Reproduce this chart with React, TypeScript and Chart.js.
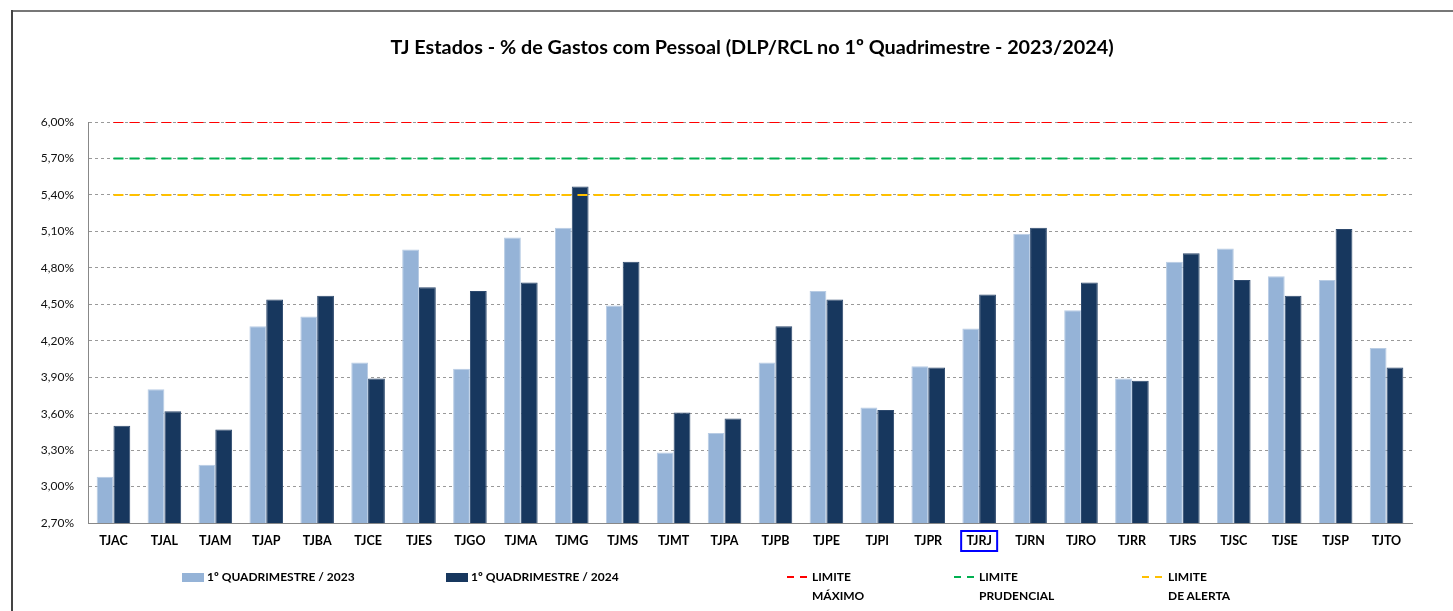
import React, { useEffect, useRef } from "react";
import { Chart, registerables } from "chart.js";

Chart.register(...registerables);

const CATEGORIES = [
  "TJAC", "TJAL", "TJAM", "TJAP", "TJBA", "TJCE", "TJES", "TJGO", "TJMA", "TJMG",
  "TJMS", "TJMT", "TJPA", "TJPB", "TJPE", "TJPI", "TJPR", "TJRJ", "TJRN", "TJRO",
  "TJRR", "TJRS", "TJSC", "TJSE", "TJSP", "TJTO",
];

const Q1_2023 = [
  3.08, 3.80, 3.18, 4.32, 4.40, 4.02, 4.95, 3.97, 5.05, 5.13,
  4.49, 3.28, 3.44, 4.02, 4.61, 3.65, 3.99, 4.30, 5.08, 4.45,
  3.89, 4.85, 4.96, 4.73, 4.70, 4.14,
];

const Q1_2024 = [
  3.50, 3.62, 3.47, 4.54, 4.57, 3.89, 4.64, 4.61, 4.68, 5.47,
  4.85, 3.61, 3.56, 4.32, 4.54, 3.63, 3.98, 4.58, 5.13, 4.68,
  3.87, 4.92, 4.70, 4.57, 5.12, 3.98,
];

const LIMITE_MAXIMO = 6.0;
const LIMITE_PRUDENCIAL = 5.7;
const LIMITE_ALERTA = 5.4;

const Y_TICKS = [2.7, 3.0, 3.3, 3.6, 3.9, 4.2, 4.5, 4.8, 5.1, 5.4, 5.7, 6.0];

const HIGHLIGHT = "TJRJ";

const TITLE = "TJ Estados - % de Gastos com Pessoal (DLP/RCL no 1º Quadrimestre - 2023/2024)";

const COLOR_2023 = "#95B3D7";
const COLOR_2024 = "#17375E";
const COLOR_MAX = "#FF0000";
const COLOR_PRU = "#00B050";
const COLOR_ALE = "#FFC000";

const FONT = "Lato, 'Open Sans', sans-serif";

const highlightPlugin = {
  id: "highlightLabel",
  afterDraw(chart: any) {
    const xs = chart.scales.x;
    const idx = CATEGORIES.indexOf(HIGHLIGHT);
    if (idx < 0) return;
    const cx = xs.getPixelForValue(idx);
    const ctx = chart.ctx;
    ctx.save();
    ctx.strokeStyle = "#0000FF";
    ctx.lineWidth = 2;
    ctx.strokeRect(cx - 18, chart.chartArea.bottom + 8, 36, 20);
    ctx.restore();
  },
};

export default function App() {
  const ref = useRef<HTMLCanvasElement | null>(null);

  useEffect(() => {
    if (!ref.current) return;
    const constLine = (v: number) => CATEGORIES.map(() => v);
    const chart = new Chart(ref.current, {
      type: "bar",
      data: {
        labels: CATEGORIES,
        datasets: [
          {
            type: "line" as any,
            label: "LIMITE MÁXIMO",
            data: constLine(LIMITE_MAXIMO),
            borderColor: COLOR_MAX,
            borderWidth: 2,
            borderDash: [10, 6],
            pointRadius: 0,
            fill: false,
            order: 0,
          } as any,
          {
            type: "line" as any,
            label: "LIMITE PRUDENCIAL",
            data: constLine(LIMITE_PRUDENCIAL),
            borderColor: COLOR_PRU,
            borderWidth: 2,
            borderDash: [10, 6],
            pointRadius: 0,
            fill: false,
            order: 0,
          } as any,
          {
            type: "line" as any,
            label: "LIMITE DE ALERTA",
            data: constLine(LIMITE_ALERTA),
            borderColor: COLOR_ALE,
            borderWidth: 2,
            borderDash: [10, 6],
            pointRadius: 0,
            fill: false,
            order: 0,
          } as any,
          {
            label: "1º QUADRIMESTRE / 2023",
            data: Q1_2023,
            backgroundColor: COLOR_2023,
            borderColor: "#B8CCE4",
            borderWidth: 1,
            categoryPercentage: 0.66,
            barPercentage: 1.0,
            order: 1,
          },
          {
            label: "1º QUADRIMESTRE / 2024",
            data: Q1_2024,
            backgroundColor: COLOR_2024,
            borderColor: "#2E4A6E",
            borderWidth: 1,
            categoryPercentage: 0.66,
            barPercentage: 1.0,
            order: 1,
          },
        ],
      },
      options: {
        animation: false,
        responsive: false,
        layout: { padding: { left: 20, right: 41, top: 122, bottom: 0 } },
        plugins: {
          legend: { display: false },
          title: { display: false },
          tooltip: { enabled: false },
        },
        scales: {
          x: {
            grid: { display: false },
            border: { display: true, color: "#888888", width: 1 },
            ticks: {
              color: "#000000",
              padding: 2,
              font: { family: FONT, size: 12.5, weight: "bold" },
              maxRotation: 0,
              autoSkip: false,
            },
            afterFit: (s: any) => {
              s.height = 88;
            },
          },
          y: {
            min: 2.7,
            max: 6.0,
            afterBuildTicks: (s: any) => {
              s.ticks = Y_TICKS.map((v) => ({ value: v }));
            },
            afterFit: (s: any) => {
              s.width = 68;
            },
            grid: { color: "#999999", lineWidth: 1, drawTicks: false },
            border: { display: true, color: "#888888", width: 1, dash: [3, 3] },
            ticks: {
              color: "#111111",
              padding: 14,
              font: { family: FONT, size: 12 },
              callback: (v: any) => Number(v).toFixed(2).replace(".", ",") + "%",
            },
          },
        },
      },
      plugins: [highlightPlugin],
    });
    return () => chart.destroy();
  }, []);

  const legendText: React.CSSProperties = {
    position: "absolute",
    fontFamily: FONT,
    fontWeight: "bold",
    fontSize: 12,
    lineHeight: "19px",
    color: "#000",
    whiteSpace: "nowrap",
  };
  const swatch = (left: number, color: string): React.CSSProperties => ({
    position: "absolute",
    left,
    top: 573,
    width: 22,
    height: 9,
    background: color,
  });
  const dash = (left: number, color: string) => (
    <div style={{ position: "absolute", left, top: 576, width: 22, height: 2 }}>
      <div style={{ position: "absolute", left: 0, width: 7, height: 2, background: color }} />
      <div style={{ position: "absolute", left: 13, width: 7, height: 2, background: color }} />
    </div>
  );

  return (
    <div style={{ position: "fixed", left: 0, top: 0, width: 1453, height: 611, background: "#fff", overflow: "hidden" }}>
      <canvas ref={ref} width={1453} height={611} style={{ position: "absolute", left: 0, top: 0, display: "block" }} />
      <div style={{ position: "absolute", left: 11, top: 10, width: 1442, height: 2, background: "#777" }} />
      <div style={{ position: "absolute", left: 11, top: 10, width: 2, height: 601, background: "#444" }} />
      <div
        style={{
          position: "absolute",
          left: 0,
          width: 1504,
          top: 34,
          textAlign: "center",
          fontFamily: FONT,
          fontWeight: "bold",
          fontSize: 19.8,
          lineHeight: "24px",
          color: "#000",
        }}
      >
        {TITLE}
      </div>
      <div style={swatch(182, COLOR_2023)} />
      <div style={{ ...legendText, left: 207, top: 567 }}>1º QUADRIMESTRE / 2023</div>
      <div style={swatch(446, COLOR_2024)} />
      <div style={{ ...legendText, left: 471, top: 567 }}>1º QUADRIMESTRE / 2024</div>
      {dash(787, COLOR_MAX)}
      <div style={{ ...legendText, left: 812, top: 567 }}>LIMITE<br />MÁXIMO</div>
      {dash(954, COLOR_PRU)}
      <div style={{ ...legendText, left: 979, top: 567 }}>LIMITE<br />PRUDENCIAL</div>
      {dash(1142, COLOR_ALE)}
      <div style={{ ...legendText, left: 1168, top: 567 }}>LIMITE<br />DE ALERTA</div>
    </div>
  );
}
